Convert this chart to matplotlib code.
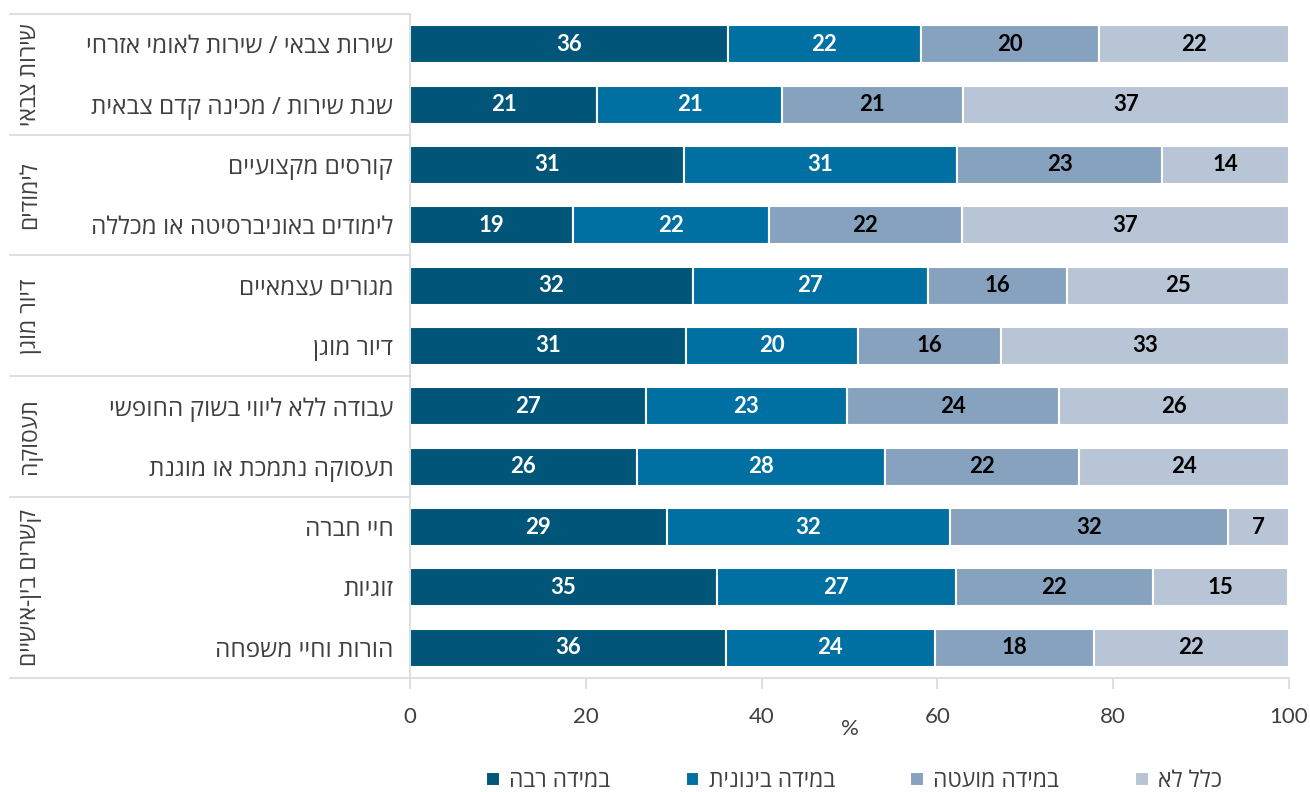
import matplotlib
matplotlib.use("Agg")
import matplotlib.pyplot as plt
import matplotlib.transforms as mtransforms
import numpy as np

# --- data ---
rows = [
    "שירות צבאי / שירות לאומי אזרחי",
    "שנת שירות / מכינה קדם צבאית",
    "קורסים מקצועיים",
    "לימודים באוניברסיטה או מכללה",
    "מגורים עצמאיים",
    "דיור מוגן",
    "עבודה ללא ליווי בשוק החופשי",
    "תעסוקה נתמכת או מוגנת",
    "חיי חברה",
    "זוגיות",
    "הורות וחיי משפחה",
]
groups = ["שירות צבאי", "לימודים", "דיור מוגן", "תעסוקה", "קשרים בין-אישיים"]
group_sizes = [2, 2, 2, 2, 3]

series = ["במידה רבה", "במידה בינונית", "במידה מועטה", "כלל לא"]
much = [36.2, 21.3, 31.2, 18.6, 32.2, 31.4, 26.8, 25.8, 29.2, 34.9, 35.9]
medium = [21.9, 21.0, 31.0, 22.2, 26.7, 19.6, 22.9, 28.2, 32.2, 27.2, 23.8]
little = [20.3, 20.6, 23.4, 22.0, 15.8, 16.2, 24.1, 22.1, 31.7, 22.4, 18.1]
not_at_all = [21.6, 37.1, 14.4, 37.2, 25.3, 32.8, 26.2, 23.9, 6.9, 15.4, 22.2]

colors = ["#005578", "#006fa1", "#87a2bf", "#b8c5d6"]
text_colors = ["white", "white", "black", "black"]


def rtl(s):
    # matplotlib draws left-to-right, so flip Hebrew to visual order
    return s[::-1]


heb = ["Open Sans", "DejaVu Sans"]
num = ["Lato", "DejaVu Sans"]
grey = "#d9d9d9"
txt = "#404040"

fig = plt.figure(figsize=(13.1, 7.92), dpi=100)
ax = fig.add_axes([410 / 1310, 1 - 678 / 792, 879 / 1310, 664 / 792])

y = np.arange(len(rows))
left = np.zeros(len(rows))
for vals, col, tc, name in zip([much, medium, little, not_at_all], colors, text_colors, series):
    vals = np.array(vals)
    bars = ax.barh(y, vals, left=left, height=0.63, color=col, edgecolor="white",
                   linewidth=1.5, label=rtl(name))
    for b, v in zip(bars, vals):
        ax.text(b.get_x() + b.get_width() / 2, b.get_y() + b.get_height() / 2,
                f"{v:.0f}", ha="center", va="center", color=tc,
                fontsize=16, fontweight="bold", family=num)
    left += vals

ax.set_ylim(len(rows) - 0.5, -0.5)
ax.set_xlim(0, 100)
ax.set_xticks(range(0, 101, 20))
ax.set_xticklabels([str(t) for t in range(0, 101, 20)], family=num, fontsize=16, color=txt)
ax.set_yticks(y)
ax.set_yticklabels([rtl(r) for r in rows], family=heb, fontsize=17.5, color=txt)
ax.tick_params(axis="y", length=0, pad=12)
ax.tick_params(axis="x", length=8, color=grey, width=1.2, pad=13)

for s in ["top", "right"]:
    ax.spines[s].set_visible(False)
for s in ["left", "bottom"]:
    ax.spines[s].set_color(grey)
    ax.spines[s].set_linewidth(1.2)

ax.set_xlabel("%", family=num, fontsize=16, color=txt, labelpad=-6)

# table lines and group names on the left
trans = mtransforms.blended_transform_factory(ax.transAxes, ax.transData)
x0 = (10 - 410) / 879
bounds = [-0.5]
for g in group_sizes:
    bounds.append(bounds[-1] + g)
for b in bounds:
    ax.plot([x0, 0], [b, b], color=grey, lw=1.2, transform=trans, clip_on=False)
for i, g in enumerate(groups):
    mid = (bounds[i] + bounds[i + 1]) / 2
    ax.text((30 - 410) / 879, mid, rtl(g), rotation=90, ha="center", va="center",
            transform=trans, family=heb, fontsize=16.5, color=txt)

leg = ax.legend(loc="center", bbox_to_anchor=(0.505, -0.155), ncol=4, frameon=False,
                handlelength=0.6, handleheight=0.6, handletextpad=0.4, columnspacing=3.3,
                prop={"family": heb, "size": 16.5})
for t in leg.get_texts():
    t.set_color(txt)

fig.savefig("out.png", dpi=100)
